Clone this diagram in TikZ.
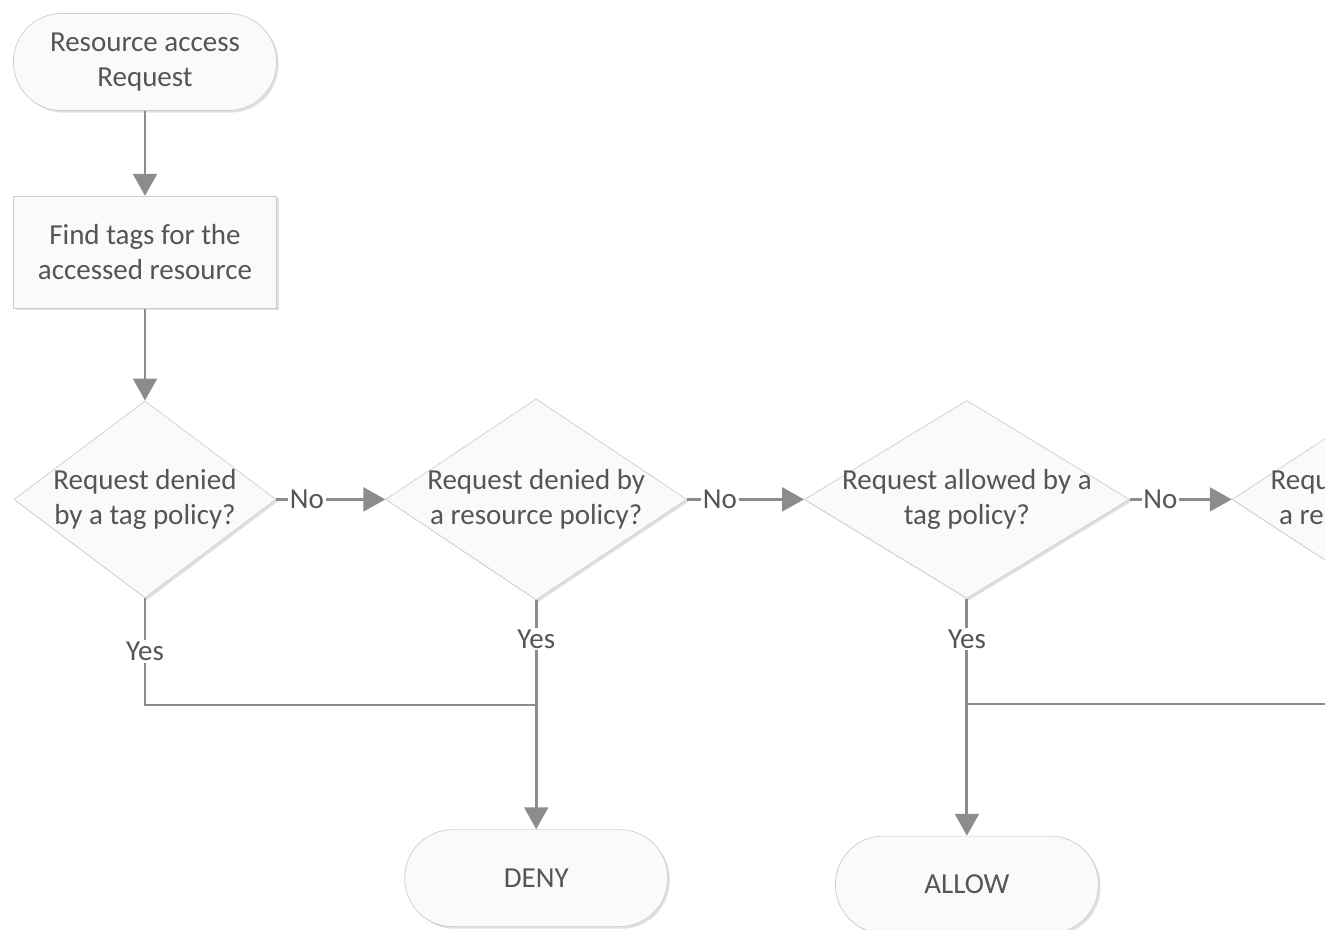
\documentclass[tikz,border=0pt]{standalone}
\usepackage{fontspec}
\setmainfont{Carlito}
\usepackage{tikz}
\usetikzlibrary{arrows.meta,positioning,shapes.geometric,shadows}
\definecolor{linex}{HTML}{8C8C8C}
\definecolor{edgex}{HTML}{CDCDCD}
\definecolor{fillx}{HTML}{FAFAFA}
\definecolor{textx}{HTML}{555555}
\tikzset{
  shd/.style={drop shadow={shadow xshift=1.2pt,shadow yshift=-1.2pt,opacity=0.12,fill=black}},
  term/.style={draw=edgex,fill=fillx,shd,rounded corners=0.96cm,minimum width=5.26cm,minimum height=1.94cm,align=center,text=textx},
  proc/.style={draw=edgex,fill=fillx,shd,minimum width=5.26cm,minimum height=2.24cm,align=center,text=textx},
  dec/.style={diamond,draw=edgex,fill=fillx,shd,inner sep=0pt},
  ar/.style={-{Triangle[length=12.5pt,width=13.5pt]},line width=1.7pt,linex},
  ln/.style={line width=1.7pt,linex},
  lab/.style={fill=white,text=textx,inner sep=1pt}
}
\begin{document}
\begin{tikzpicture}[font=\fontsize{16.5}{20}\selectfont]
\useasboundingbox (0,0) rectangle (26.5,-18.6);
\clip (0,0) rectangle (26.5,-18.6);
\node[term] (start) at (2.9,-1.24) {Resource access\\Request};
\node[proc,below=1.7cm of start] (find) {Find tags for the\\accessed resource};
\node[dec,minimum width=5.24cm,minimum height=3.94cm,below=1.84cm of find,
  label={[align=center,text=textx]center:Request denied\\by a tag policy?}] (tagdeny) {};
\node[dec,minimum width=6.02cm,minimum height=4.02cm,right=2.18cm of tagdeny,
  label={[align=center,text=textx]center:Request denied by\\a resource policy?}] (resdeny) {};
\node[dec,minimum width=6.5cm,minimum height=3.96cm,right=2.34cm of resdeny,
  label={[align=center,text=textx]center:Request allowed by a\\tag policy?}] (tagallow) {};
\node[dec,minimum width=6.12cm,minimum height=4.0cm,right=2.04cm of tagallow,
  label={[align=center,text=textx]center:Request allowed by\\a resource policy?}] (resallow) {};
\node[term,below=4.58cm of resdeny] (deny) {DENY};
\node[term,below=4.74cm of tagallow] (allow) {ALLOW};
\coordinate (j1) at (resdeny.south |- 0,-14.1);
\coordinate (j2) at (tagallow.south |- 0,-14.08);
\draw[ar] (start) -- (find);
\draw[ar] (find) -- (tagdeny);
\draw[ar] (tagdeny.east) -- node[lab,pos=0.28] {No} (resdeny.west);
\draw[ar] (resdeny.east) -- node[lab,pos=0.28] {No} (tagallow.west);
\draw[ar] (tagallow.east) -- node[lab,pos=0.3] {No} (resallow.west);
\draw[ln] (tagdeny.south) |- node[lab,pos=0.25] {Yes} (j1);
\draw[ar] (resdeny.south) -- node[lab,pos=0.17] {Yes} (deny);
\draw[ar] (tagallow.south) -- node[lab,pos=0.17] {Yes} (allow);
\draw[ln] (resallow.south) |- (j2);
\end{tikzpicture}
\end{document}
